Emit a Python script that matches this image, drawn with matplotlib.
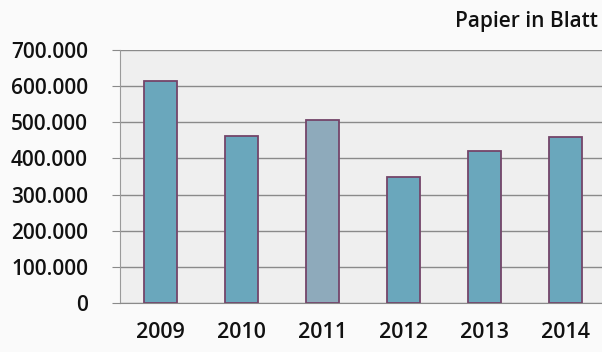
import matplotlib.pyplot as plt
from matplotlib.ticker import FuncFormatter
import numpy as np

years = ["2009", "2010", "2011", "2012", "2013", "2014"]
sheets = [615000, 461000, 505000, 348000, 420000, 459000]
bar_colors = ["#6aa7bc", "#6aa7bc", "#8eaabb", "#6aa7bc", "#6aa7bc", "#6aa7bc"]

plt.rcParams["font.family"] = ["Open Sans", "DejaVu Sans"]

fig = plt.figure(figsize=(6.02, 3.52), dpi=100, facecolor="#fafafa")
ax = fig.add_axes([120 / 602, 49 / 352, 486 / 602, 253 / 352])
ax.set_facecolor("#efefef")

x = np.arange(len(years))
ax.bar(x, sheets, width=0.4, color=bar_colors, edgecolor="#74456a",
       linewidth=1.3, zorder=3)

ax.set_xlim(-0.5, len(years) - 0.5)
ax.set_ylim(0, 700000)
ax.set_yticks(np.arange(0, 700001, 100000))
ax.yaxis.set_major_formatter(
    FuncFormatter(lambda v, p: "{:,.0f}".format(v).replace(",", ".")))
ax.set_xticks(x)
ax.set_xticklabels(years)

ax.grid(axis="y", color="#8a8a8a", linewidth=1.0, zorder=0)
for s in ["top", "right"]:
    ax.spines[s].set_visible(False)
ax.spines["left"].set_color("#9a9a9a")
ax.spines["bottom"].set_color("#8a8a8a")

ax.tick_params(axis="y", length=6, color="#8a8a8a", pad=17,
               labelsize=15, labelcolor="#111111")
ax.tick_params(axis="x", length=0, pad=14, labelsize=15.5, labelcolor="#111111")
for lab in ax.get_xticklabels() + ax.get_yticklabels():
    lab.set_fontweight("semibold")

fig.text(598 / 602, 1 - 21 / 352, "Papier in Blatt", ha="right", va="center",
         fontsize=15, fontweight="semibold", color="#111111")

fig.savefig("out.png", dpi=100, facecolor=fig.get_facecolor())
